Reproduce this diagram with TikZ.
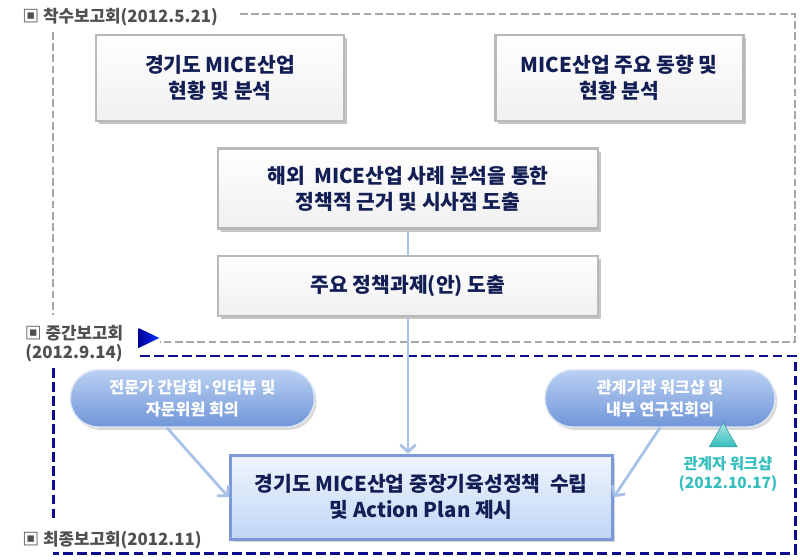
\documentclass[tikz,border=0pt]{standalone}
\usepackage{fontspec}
\setmainfont{Noto Sans CJK KR}
\usetikzlibrary{positioning}
\usetikzlibrary{arrows.meta}
\usetikzlibrary{shadows}
\usetikzlibrary{shapes.geometric}
\definecolor{navytext}{RGB}{18,30,84}
\definecolor{labelgray}{RGB}{80,80,80}
\definecolor{framegray}{RGB}{166,166,166}
\definecolor{framenavy}{RGB}{12,12,140}
\definecolor{pilltop}{RGB}{186,208,242}
\definecolor{pillbottom}{RGB}{112,150,216}
\definecolor{arrowblue}{RGB}{170,194,234}
\definecolor{planedge}{RGB}{124,154,216}
\definecolor{planfill}{RGB}{192,214,245}
\definecolor{wsteal}{RGB}{52,190,190}
\tikzset{
stagebox/.style={ % grey bevelled step boxes
draw=gray!55, line width=2pt,
top color=white, bottom color=gray!12,
drop shadow={shadow xshift=2pt, shadow yshift=-2pt, opacity=0.45},
minimum height=2.15cm, align=center, text=navytext,
font=\bfseries\fontsize{14.5}{18.5}\selectfont},
planbox/.style={ % final result box
draw=planedge, line width=2.2pt,
top color=planfill!25!white, bottom color=planfill,
drop shadow={shadow xshift=2pt, shadow yshift=-2pt, opacity=0.35},
minimum width=9.55cm, minimum height=2.1cm, align=center, text=navytext,
font=\bfseries\fontsize{14.5}{18.5}\selectfont},
pill/.style={ % rounded meeting bubbles
rounded corners=0.7cm, draw=pilltop!50!white, line width=1pt,
top color=pilltop, bottom color=pillbottom,
drop shadow={shadow xshift=1.5pt, shadow yshift=-2pt, opacity=0.3},
minimum height=1.43cm, align=center, text=white,
font=\bfseries\fontsize{11.5}{16}\selectfont},
stagelabel/.style={ % meeting names at the left
anchor=west, inner sep=0pt, text=labelgray,
font=\bfseries\fontsize{12}{13.5}\selectfont},
link/.style={draw=arrowblue, line width=2pt},
flow/.style={link, -{Straight Barb[length=5pt,width=11pt]}},
graydash/.style={draw=framegray, line width=1.4pt, dash pattern=on 5.5pt off 2.5pt},
navydash/.style={draw=framenavy, line width=2pt, dash pattern=on 7pt off 3pt}}

\begin{document}
\begin{tikzpicture}
\useasboundingbox (0,0) rectangle (20,-14);
% report frames
\draw[graydash] (6,-0.35) -- (19.88,-0.35) -- (19.88,-8.55) -- (4,-8.55);
\draw[graydash] (1.33,-0.8) -- (1.33,-7.88);
\draw[navydash] (3.5,-8.9) -- (19.88,-8.9) -- (19.88,-13.83) -- (1.33,-13.83);
\draw[navydash] (1.33,-9.2) -- (1.33,-13.05);
% meeting labels
\node[stagelabel] (startlbl) at (0.55,-0.43) {▣ 착수보고회(2012.5.21)};
\node[stagelabel, anchor=center, align=center] (midlbl) at (1.85,-8.58) {▣ 중간보고회\\(2012.9.14)};
\node[stagelabel] (endlbl) at (0.55,-13.5) {▣ 최종보고회(2012.11)};
\node[isosceles triangle, isosceles triangle stretches, minimum width=0.5cm, minimum height=0.52cm, inner sep=0pt, left color=blue!60!black, right color=blue!80!cyan, draw=none] (midmark) at (3.62,-8.45) {};
% steps
\node[stagebox, minimum width=6.2cm] (stat) at (5.5,-1.95) {경기도 MICE산업\\현황 및 분석};
\node[stagebox, minimum width=6.2cm] (trend) at (15.48,-1.95) {MICE산업 주요 동향 및\\현황 분석};
\node[stagebox, minimum width=9.5cm, minimum height=2cm] (abroad) at (10.2,-4.72) {해외\ \ MICE산업 사례 분석을 통한\\정책적 근거 및 시사점 도출};
\node[stagebox, minimum width=9.5cm, minimum height=1.5cm] (task) at (10.2,-7.15) {주요 정책과제(안) 도출};
\node[pill, minimum width=6.1cm] (expert) at (4.81,-9.96) {전문가 간담회·인터뷰 및\\자문위원 회의};
\node[pill, minimum width=5.75cm] (agency) at (16.5,-9.96) {관계기관 워크샵 및\\내부 연구진회의};
\node[regular polygon, regular polygon sides=3, minimum size=0.8cm, inner sep=0pt, top color=wsteal!40!white, bottom color=wsteal, draw=wsteal!80!black, line width=0.4pt] (wsmark) at (18.08,-10.97) {};
\node[align=center, text=wsteal, font=\bfseries\fontsize{11}{13.5}\selectfont] (wslbl) at (18.2,-11.85) {관계자 워크샵\\(2012.10.17)};
\node[planbox] (plan) at (10.53,-12.43) {경기도 MICE산업 중장기육성정책\ \ 수립\\및 Action Plan 제시};
% connectors
\draw[link] (abroad) -- (task);
\draw[flow] (task.south) -- (task.south |- plan.north);
\draw[flow] (expert.229) -- (plan.west);
\draw[flow] (agency.south) -- (plan.east);
\end{tikzpicture}
\end{document}
